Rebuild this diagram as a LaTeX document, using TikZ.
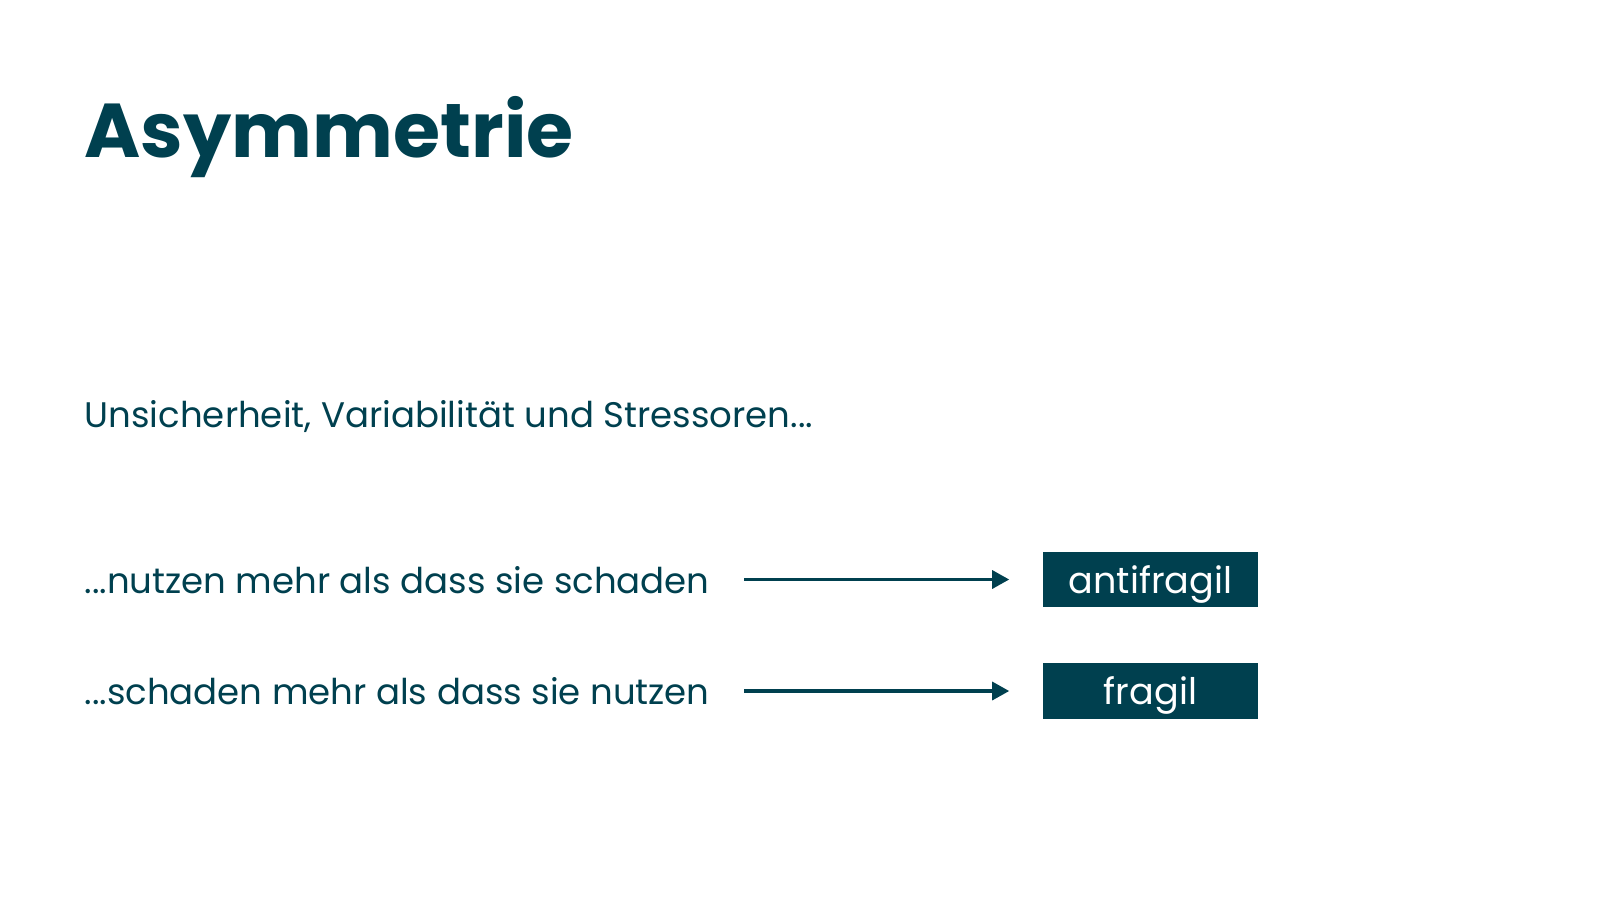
\documentclass[tikz,border=0pt]{standalone}
\usepackage{fontspec}
\setmainfont{Poppins}
\usepackage{xcolor}
\usetikzlibrary{positioning,arrows.meta}
\definecolor{petrol}{HTML}{00404F}
\tikzset{
  title/.style   = {anchor=base west, inner sep=0pt, font=\fontsize{21.7}{26}\selectfont\bfseries, text=petrol},
  line/.style    = {anchor=base west, inner sep=0pt, font=\fontsize{10.1}{13}\selectfont, text=petrol},
  result/.style  = {fill=petrol, text=white, minimum width=2.15cm, minimum height=0.55cm,
                    inner sep=0pt, text height=0.27cm, text depth=0cm,
                    font=\fontsize{10.4}{13}\selectfont},
  link/.style    = {draw=petrol, line width=0.032cm, -{Triangle[length=0.17cm,width=0.18cm]},
                    shorten <=0.34cm, shorten >=0.33cm}
}
\begin{document}
\begin{tikzpicture}[x=0.01cm, y=-0.01cm]
        \useasboundingbox (0,0) rectangle (1600,900);
        % heading and lead-in line
        \node[title] (head) at (84,157) {Asymmetrie};
        \node[line] (lead) at (84,427) {Unsicherheit, Variabilität und Stressoren...};
        % the two statements
        \node[line] (s1) at (84,593) {...nutzen mehr als dass sie schaden};
        \node[line] (s2) at (84,704) {...schaden mehr als dass sie nutzen};
        % the two results, boxes on the right
        \node[result] (r1) at (1150.5,579.5) {antifragil};
        \node[result] (r2) at (1150.5,691) {fragil};
        % arrows from each statement to its result
        \foreach \value in {1,2}
        \draw[link] (s\value.east |- r\value) -- (r\value.west);
\end{tikzpicture}
\end{document}
